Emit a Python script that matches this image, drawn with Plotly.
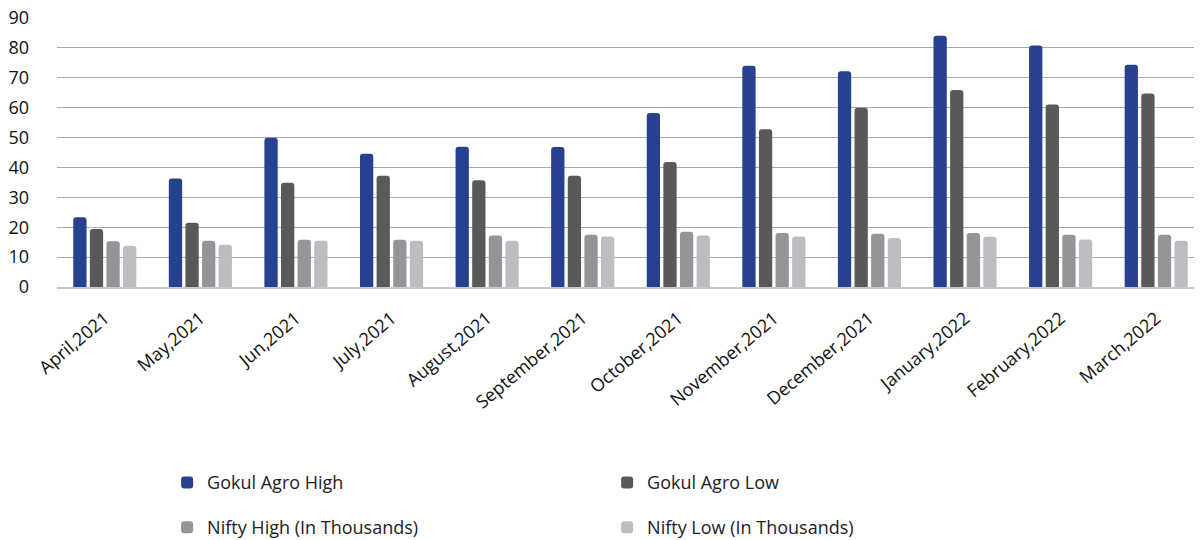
import plotly.graph_objects as go

months = ["April,2021", "May,2021", "Jun,2021", "July,2021", "August,2021",
          "September,2021", "October,2021", "November,2021", "December,2021",
          "January,2022", "February,2022", "March,2022"]
gokul_high = [23.3, 36.3, 49.9, 44.6, 46.9, 46.8, 58.2, 74.0, 72.2, 84.1, 80.8, 74.4]
gokul_low = [19.4, 21.5, 34.9, 37.2, 35.7, 37.2, 41.8, 52.8, 60.0, 65.9, 61.1, 64.7]
nifty_high = [15.3, 15.5, 15.8, 15.8, 17.2, 17.5, 18.5, 18.1, 17.8, 18.1, 17.5, 17.5]
nifty_low = [13.8, 14.1, 15.5, 15.5, 15.5, 16.9, 17.2, 16.9, 16.4, 16.8, 15.9, 15.5]
y_ticks = [0, 10, 20, 30, 40, 50, 60, 70, 80, 90]

series = [
    ("Gokul Agro High", gokul_high, "#25418F", "legend"),
    ("Gokul Agro Low", gokul_low, "#58595B", "legend"),
    ("Nifty High (In Thousands)", nifty_high, "#939598", "legend2"),
    ("Nifty Low (In Thousands)", nifty_low, "#BCBDC0", "legend2"),
]

fig = go.Figure()
for name, vals, color, leg in series:
    fig.add_trace(go.Bar(x=months, y=vals, name=name, marker_color=color,
                         marker_line_width=0, legend=leg))

legend_font = dict(family="Open Sans", size=18, color="#222222")
fig.update_layout(
    width=1202, height=540,
    margin=dict(l=49, r=6, t=10, b=261, autoexpand=False),
    plot_bgcolor="white", paper_bgcolor="white",
    barmode="group", bargap=0.305, bargroupgap=0.2,
    barcornerradius=3,
    font=dict(family="Open Sans", size=18, color="#111111"),
    xaxis=dict(tickangle=-40, showgrid=False, showline=True, linecolor="#C8C8C8",
               linewidth=2, ticks="", automargin=False, ticklabelstandoff=12,
               tickfont=dict(size=18, family="Open Sans")),
    yaxis=dict(range=[0, 90], tickvals=y_ticks, showgrid=True, gridcolor="#ABABAB",
               gridwidth=1, zeroline=False, ticks="", ticklabelstandoff=27,
               ticklabeloverflow="allow", automargin=False,
               tickfont=dict(size=18, family="Open Sans")),
    legend=dict(orientation="h", x=0.096, xanchor="left", y=-0.7275, yanchor="middle",
                entrywidth=395, entrywidthmode="pixels", font=legend_font,
                itemclick=False, traceorder="normal"),
    legend2=dict(orientation="h", x=0.096, xanchor="left", y=-0.8944, yanchor="middle",
                 entrywidth=395, entrywidthmode="pixels", font=legend_font,
                 itemclick=False, traceorder="normal"),
)

fig.write_html("out.html")
